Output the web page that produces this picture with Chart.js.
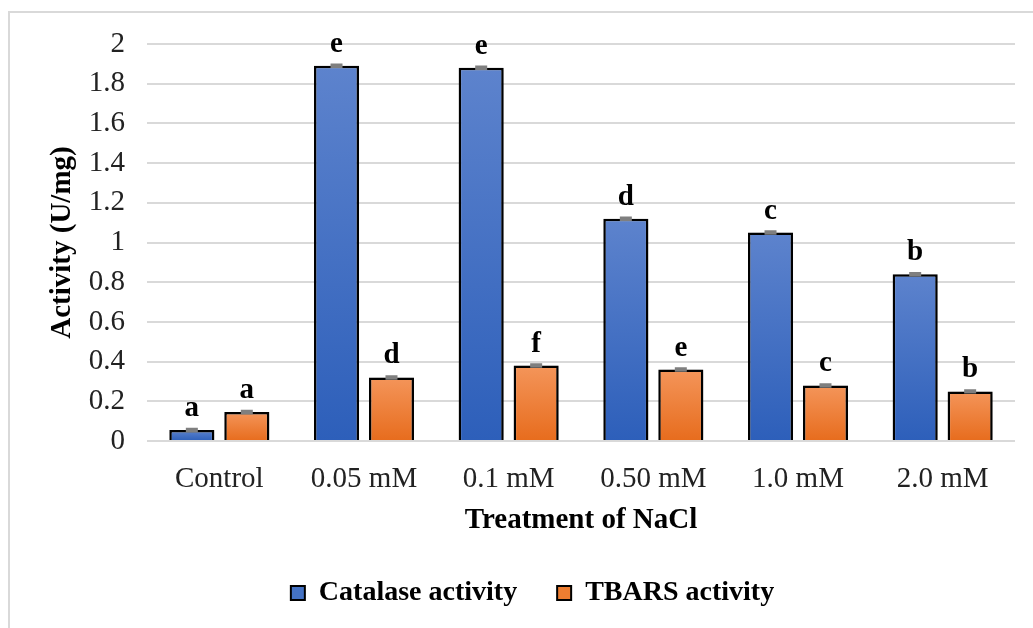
<!DOCTYPE html>
<html>
<head>
<meta charset="utf-8">
<script src="https://cdn.jsdelivr.net/npm/chart.js@4.4.1/dist/chart.umd.min.js"></script>
<style>
    body { margin: 0; background: #fff; }
    #wrap { position: relative; width: 1033px; height: 628px; }
</style>
</head>
<body>
<div id="wrap"><canvas id="myChart" width="1033" height="628"></canvas></div>
<script>
const categories = ['Control', '0.05 mM', '0.1 mM', '0.50 mM', '1.0 mM', '2.0 mM'];
const catalaseValues = [0.055, 1.89, 1.88, 1.12, 1.05, 0.84];
const tbarsValues = [0.146, 0.32, 0.38, 0.36, 0.28, 0.25];
const catalaseErrors = [0.005, 0.005, 0.005, 0.005, 0.005, 0.005];
const tbarsErrors = [0.005, 0.005, 0.005, 0.005, 0.005, 0.005];
const catalaseLetters = ['a', 'e', 'e', 'd', 'c', 'b'];
const tbarsLetters = ['a', 'd', 'f', 'e', 'c', 'b'];

const FONT = "'Liberation Serif', 'Times New Roman', serif";

// each bar gets its own light-to-dark gradient, like the office-style fill
function barGradient(c, top, bottom) {
    const chart = c.chart;
    const y = chart.scales.y;
    if (!chart.chartArea || !y || c.raw === undefined) return bottom;
    const y0 = y.getPixelForValue(c.raw);
    const y1 = y.getPixelForValue(0);
    const g = chart.ctx.createLinearGradient(0, y0, 0, y1);
    g.addColorStop(0, top);
    g.addColorStop(1, bottom);
    return g;
}

const framePlugin = {
    id: 'frame',
    beforeDraw(chart) {
        const ctx = chart.ctx;
        ctx.save();
        ctx.strokeStyle = '#d9d9d9';
        ctx.lineWidth = 2;
        ctx.beginPath();
        ctx.moveTo(9, 628);
        ctx.lineTo(9, 12);
        ctx.lineTo(1033, 12);
        ctx.stroke();
        ctx.restore();
    }
};

// soft shadow behind bars, then error bars and letters on top
const annotatePlugin = {
    id: 'annotate',
    beforeDatasetsDraw(chart) {
        const ctx = chart.ctx;
        ctx.save();
        ctx.shadowColor = 'rgba(0,0,0,0.22)';
        ctx.shadowBlur = 6;
        ctx.shadowOffsetX = 2;
        ctx.shadowOffsetY = 1;
    },
    afterDatasetsDraw(chart) {
        const ctx = chart.ctx;
        ctx.restore();
        const yScale = chart.scales.y;
        const errs = [catalaseErrors, tbarsErrors];
        const letters = [catalaseLetters, tbarsLetters];
        ctx.save();
        chart.data.datasets.forEach((ds, di) => {
            const meta = chart.getDatasetMeta(di);
            meta.data.forEach((bar, i) => {
                const v = ds.data[i];
                const hi = yScale.getPixelForValue(v + errs[di][i]);
                const lo = yScale.getPixelForValue(v - errs[di][i]);
                ctx.strokeStyle = '#7f7f7f';
                ctx.lineWidth = 2.5;
                ctx.beginPath();
                ctx.moveTo(bar.x - 6, hi);
                ctx.lineTo(bar.x + 6, hi);
                ctx.moveTo(bar.x, hi);
                ctx.lineTo(bar.x, lo);
                ctx.moveTo(bar.x - 6, lo);
                ctx.lineTo(bar.x + 6, lo);
                ctx.stroke();

                ctx.fillStyle = '#000';
                ctx.font = 'bold 29px ' + FONT;
                ctx.textAlign = 'center';
                ctx.textBaseline = 'alphabetic';
                ctx.fillText(letters[di][i], bar.x, hi - 13);
            });
        });
        ctx.restore();
    }
};

function setupChart() {
    const ctx = document.getElementById('myChart').getContext('2d');
    new Chart(ctx, {
        type: 'bar',
        data: {
            labels: categories,
            datasets: [{
                label: 'Catalase activity',
                data: catalaseValues,
                backgroundColor: c => barGradient(c, '#5d83cd', '#2d5fba'),
                borderColor: '#000',
                borderWidth: 2.5,
                categoryPercentage: 0.76,
                barPercentage: 0.82
            }, {
                label: 'TBARS activity',
                data: tbarsValues,
                backgroundColor: c => barGradient(c, '#f4955a', '#e76c1d'),
                borderColor: '#000',
                borderWidth: 2.5,
                categoryPercentage: 0.76,
                barPercentage: 0.82
            }]
        },
        options: {
            responsive: false,
            animation: false,
            layout: { padding: { left: 50, right: 18, top: 44, bottom: 11 } },
            plugins: {
                tooltip: { enabled: false },
                legend: {
                    position: 'bottom',
                    labels: {
                        font: { family: FONT, size: 28, weight: 'bold' },
                        color: '#000',
                        boxWidth: 14,
                        boxHeight: 14,
                        padding: 40,
                        generateLabels: chart => [
                            { text: 'Catalase activity', fillStyle: '#4472c4', strokeStyle: '#000', lineWidth: 2, datasetIndex: 0 },
                            { text: 'TBARS activity', fillStyle: '#ed7d31', strokeStyle: '#000', lineWidth: 2, datasetIndex: 1 }
                        ]
                    }
                }
            },
            scales: {
                x: {
                    grid: { display: false },
                    border: { display: false },
                    ticks: {
                        color: '#222',
                        font: { family: FONT, size: 29 },
                        padding: 13
                    },
                    title: {
                        display: true,
                        text: 'Treatment of NaCl',
                        color: '#000',
                        font: { family: FONT, size: 29, weight: 'bold' },
                        padding: { top: 0, bottom: 1 }
                    },
                    afterFit: scale => { scale.height = 98; }
                },
                y: {
                    min: 0,
                    max: 2,
                    ticks: {
                        stepSize: 0.2,
                        color: '#222',
                        font: { family: FONT, size: 29 },
                        padding: 22,
                        callback: v => Math.round(v * 10) / 10
                    },
                    grid: { color: '#d9d9d9', lineWidth: 2, drawTicks: false },
                    border: { display: false },
                    title: {
                        display: true,
                        text: 'Activity (U/mg)',
                        color: '#000',
                        font: { family: FONT, size: 29, weight: 'bold' },
                        padding: { top: -5, bottom: 0 }
                    },
                    afterFit: scale => { scale.width = 97; }
                }
            }
        },
        plugins: [framePlugin, annotatePlugin]
    });
}

document.addEventListener('DOMContentLoaded', setupChart);
</script>
</body>
</html>
